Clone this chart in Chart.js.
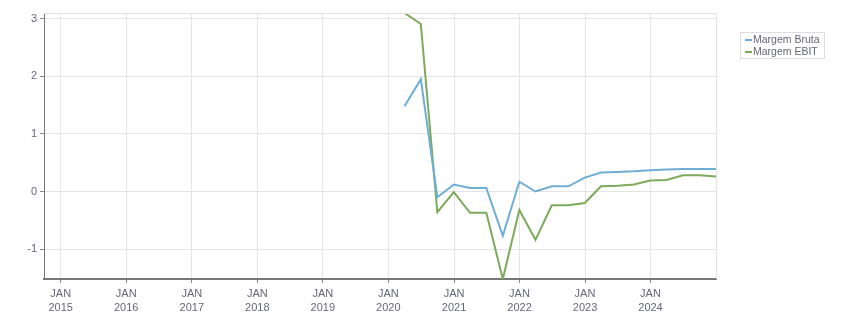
<!DOCTYPE html>
<html lang="pt">
<head>
<meta charset="UTF-8">
<title>Margens</title>
<script src="https://cdn.jsdelivr.net/npm/chart.js"></script>
<style>
    html, body { margin: 0; padding: 0; background: #fff; }
    #wrap { width: 851px; height: 313px; }
</style>
</head>
<body>
<div id="wrap"><canvas id="chart" width="851" height="313"></canvas></div>
<script>
    // quarter ends
    const quarters = ['2020-03-31', '2020-06-30', '2020-09-30', '2020-12-31',
        '2021-03-31', '2021-06-30', '2021-09-30', '2021-12-31',
        '2022-03-31', '2022-06-30', '2022-09-30', '2022-12-31',
        '2023-03-31', '2023-06-30', '2023-09-30', '2023-12-31',
        '2024-03-31', '2024-06-30', '2024-09-30', '2024-12-31'];
    const margemBruta = [1.48, 1.95, -0.10, 0.12, 0.06, 0.06, -0.77, 0.17,
        0.00, 0.09, 0.09, 0.24, 0.33, 0.34, 0.35, 0.37, 0.38, 0.39, 0.39, 0.39];
    const margemEbit = [3.1, 2.91, -0.36, -0.01, -0.37, -0.37, -1.52, -0.32,
        -0.84, -0.24, -0.24, -0.20, 0.09, 0.10, 0.12, 0.19, 0.20, 0.28, 0.28, 0.26];
    const seriesNames = ['Margem Bruta', 'Margem EBIT'];
    const years = [2015, 2016, 2017, 2018, 2019, 2020, 2021, 2022, 2023, 2024];
    const yTicks = [-1, 0, 1, 2, 3];

    const toTime = s => Date.parse(s + 'T00:00:00Z');
    const pts = arr => arr.map((v, i) => ({ x: toTime(quarters[i]), y: v }));

    const FONT = "'Liberation Sans', Arial, sans-serif";
    const textColor = '#66667a';

    // light frame on top/right + legend box on the side
    const framePlugin = {
        id: 'frame',
        afterDraw(chart) {
            const { ctx, chartArea: a } = chart;
            ctx.save();
            ctx.strokeStyle = '#e2e2e2';
            ctx.lineWidth = 1;
            ctx.beginPath();
            ctx.moveTo(a.left, a.top + 0.5);
            ctx.lineTo(a.right + 0.5, a.top + 0.5);
            ctx.lineTo(a.right + 0.5, a.bottom);
            ctx.stroke();

            // legend
            ctx.fillStyle = '#fff';
            ctx.fillRect(740, 33, 84, 26);
            ctx.strokeStyle = '#dddddd';
            ctx.strokeRect(740.5, 32.5, 84, 26);
            ctx.font = '10.5px ' + FONT;
            ctx.textBaseline = 'middle';
            chart.data.datasets.forEach((ds, i) => {
                const y = 40 + i * 12;
                ctx.fillStyle = ds.borderColor;
                ctx.fillRect(745, y - 1, 7, 2);
                ctx.fillStyle = textColor;
                ctx.fillText(ds.label, 753, y);
            });
            ctx.restore();
        }
    };

    new Chart(document.getElementById('chart'), {
        type: 'line',
        data: {
            datasets: [{
                label: seriesNames[0],
                data: pts(margemBruta),
                borderColor: '#6eaed5',
                borderWidth: 2,
                pointRadius: 0,
                tension: 0
            }, {
                label: seriesNames[1],
                data: pts(margemEbit),
                borderColor: '#7caa5b',
                borderWidth: 2,
                pointRadius: 0,
                tension: 0
            }]
        },
        options: {
            responsive: false,
            animation: false,
            layout: { padding: { top: 13, right: 135, left: 0, bottom: 0 } },
            plugins: { legend: { display: false }, tooltip: { enabled: false } },
            scales: {
                x: {
                    type: 'linear',
                    min: toTime('2014-09-30'),
                    max: toTime('2024-12-31'),
                    afterBuildTicks: s => { s.ticks = years.map(y => ({ value: Date.UTC(y, 0, 1) })); },
                    afterFit: s => { s.height = 34; },
                    grid: { color: '#e4e4e4', tickColor: '#888', tickLength: 4 },
                    border: { color: '#777', width: 2 },
                    ticks: {
                        autoSkip: false,
                        maxRotation: 0,
                        padding: 4,
                        color: textColor,
                        font: { family: FONT, size: 11, lineHeight: 1.25 },
                        callback: v => ['JAN', String(new Date(v).getUTCFullYear())]
                    }
                },
                y: {
                    min: -1.52,
                    max: 3.1,
                    afterBuildTicks: s => { s.ticks = yTicks.map(v => ({ value: v })); },
                    afterFit: s => { s.width = 44; },
                    grid: { color: '#e4e4e4', tickColor: '#888', tickLength: 4 },
                    border: { color: '#777', width: 1 },
                    ticks: {
                        padding: 3,
                        color: textColor,
                        font: { family: FONT, size: 11 },
                        callback: v => String(v)
                    }
                }
            }
        },
        plugins: [framePlugin]
    });
</script>
</body>
</html>
